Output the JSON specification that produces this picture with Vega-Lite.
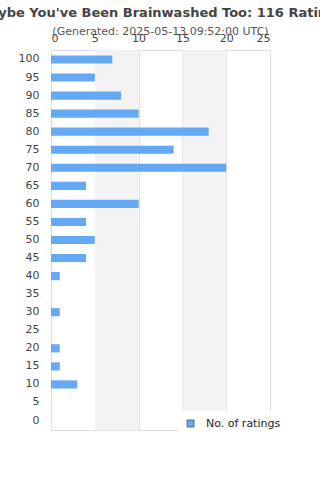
{
  "$schema": "https://vega.github.io/schema/vega-lite/v6.json",
  "autosize": {"type": "none"},
  "padding": {"left": 51, "top": 50, "right": 50, "bottom": 50},
  "width": 219,
  "height": 380,
  "background": "white",
  "config": {
    "font": "DejaVu Sans",
    "view": {"stroke": "#dddddd", "strokeWidth": 1}
  },
  "title": {
    "text": "Maybe You've Been Brainwashed Too: 116 Ratings",
    "subtitle": "(Generated: 2025-05-13 09:52:00 UTC)",
    "font": "DejaVu Sans",
    "fontSize": 13,
    "fontWeight": "bold",
    "color": "#444444",
    "subtitleFont": "DejaVu Sans",
    "subtitleFontSize": 11,
    "subtitleColor": "#555555",
    "subtitlePadding": 6,
    "anchor": "middle",
    "offset": -5
  },
  "datasets": {
    "ratings": [
      {"rating": 100, "count": 7},
      {"rating": 95, "count": 5},
      {"rating": 90, "count": 8},
      {"rating": 85, "count": 10},
      {"rating": 80, "count": 18},
      {"rating": 75, "count": 14},
      {"rating": 70, "count": 20},
      {"rating": 65, "count": 4},
      {"rating": 60, "count": 10},
      {"rating": 55, "count": 4},
      {"rating": 50, "count": 5},
      {"rating": 45, "count": 4},
      {"rating": 40, "count": 1},
      {"rating": 35, "count": 0},
      {"rating": 30, "count": 1},
      {"rating": 25, "count": 0},
      {"rating": 20, "count": 1},
      {"rating": 15, "count": 1},
      {"rating": 10, "count": 3},
      {"rating": 5, "count": 0},
      {"rating": 0, "count": 0}
    ],
    "bands": [
      {"start": 5, "end": 10},
      {"start": 15, "end": 20}
    ]
  },
  "layer": [
    {
      "data": {"name": "bands"},
      "mark": {"type": "rect", "color": "#f3f3f3"},
      "encoding": {
        "x": {"field": "start", "type": "quantitative", "scale": {"domain": [0, 25], "nice": false}},
        "x2": {"field": "end"}
      }
    },
    {
      "data": {"name": "ratings"},
      "mark": {"type": "bar", "color": "#63a9f3"},
      "encoding": {
        "y": {
          "field": "rating",
          "type": "ordinal",
          "sort": "descending",
          "scale": {"paddingInner": 0.55, "paddingOuter": 0.3},
          "axis": {
            "title": null,
            "ticks": false,
            "domain": false,
            "grid": false,
            "labelPadding": 12,
            "labelFontSize": 11,
            "labelColor": "#444444",
            "labelFont": "DejaVu Sans"
          }
        },
        "x": {
          "field": "count",
          "type": "quantitative",
          "scale": {"domain": [0, 25], "nice": false},
          "axis": {
            "orient": "top",
            "title": null,
            "values": [0, 5, 10, 15, 20, 25],
            "ticks": false,
            "domain": false,
            "grid": true,
            "gridColor": "#dddddd",
            "labelPadding": 7,
            "labelFontSize": 11,
            "labelColor": "#444444",
            "labelFont": "DejaVu Sans"
          }
        },
        "fill": {
          "datum": "No. of ratings",
          "type": "nominal",
          "scale": {"range": ["#63a9f3"]},
          "legend": {
            "title": null,
            "orient": "none",
            "legendX": 127,
            "legendY": 361,
            "fillColor": "white",
            "padding": 7,
            "symbolType": "square",
            "symbolSize": 49,
            "symbolStrokeColor": "#666666",
            "symbolStrokeWidth": 1,
            "labelFontSize": 11,
            "labelColor": "#222222",
            "labelFont": "DejaVu Sans",
            "labelOffset": 10
          }
        }
      }
    }
  ]
}
